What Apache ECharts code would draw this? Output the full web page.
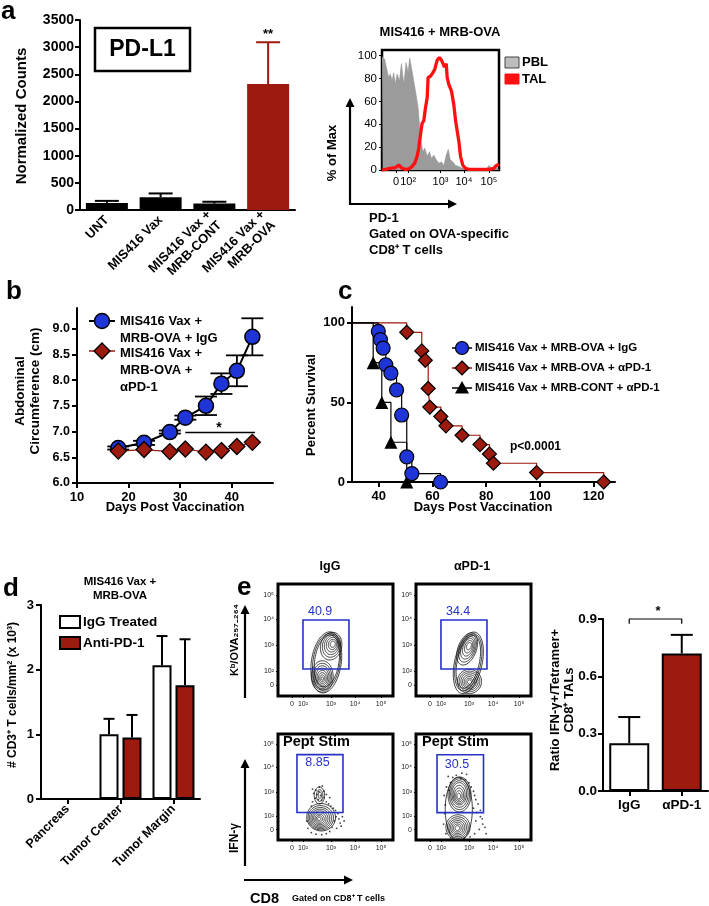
<!DOCTYPE html>
<html><head><meta charset="utf-8">
<script src="https://cdn.jsdelivr.net/npm/echarts@6/dist/echarts.min.js"></script>
<style>html,body{margin:0;padding:0;background:#fff}#c{width:709px;height:906px}</style>
</head><body><div id="c"></div><script>
const FONT = '"Liberation Sans", Arial, Helvetica, sans-serif';
const RED = '#9c1a0e';
const BLUE = '#1f35d8';
const GATE = '#2632c8';

// ---------- Panel a: bar ----------
const aCategories = ['UNT', 'MIS416 Vax', 'MIS416 Vax +\nMRB-CONT', 'MIS416 Vax +\nMRB-OVA'];
const aValues = [130, 235, 118, 2320];
const aErrHigh = [168, 305, 152, 3090];
const aBarColors = ['#000', '#000', '#000', RED];

// ---------- Panel a: histogram (display channel 0-1000, % of max) ----------
const histTickPos = [120, 223, 500, 700, 914];
const histTickLabels = ['0', '10²', '10³', '10⁴', '10⁵'];
const histYTicks = [0, 20, 40, 60, 80, 100];
const pblHist = [[0,99],[6,100],[23,97],[43,87],[57,81],[71,84],[86,78],[100,85],[114,75],[129,84],[149,78],[166,93],[186,75],[206,94],[223,85],[237,98],[251,90],[271,78],[291,66],[309,54],[320,40],[334,25],[349,16],[366,19],[386,12],[406,16],[423,10],[443,13],[463,9],[486,6],[509,7],[529,4],[549,13],[566,18],[583,9],[606,7],[629,4],[657,3],[686,1.5],[714,0],[886,0],[914,4],[937,1.5],[960,4],[977,2],[1000,0]];
const talHist = [[0,0],[29,0.5],[71,1.5],[114,2],[143,4.4],[166,2],[200,0.5],[229,1],[257,3],[280,6],[300,12],[314,19],[329,31],[343,41],[357,43],[371,54],[386,63],[394,81],[414,82],[434,85],[451,88],[471,96],[491,98.5],[509,96],[520,97],[534,90],[549,93],[557,81],[571,75],[594,69],[614,57],[629,43],[643,34],[657,25],[671,12],[691,4],[714,1.5],[743,0.5],[800,0.5],[914,0.5],[957,1.5],[977,4],[994,4],[1000,5]];

// ---------- Panel b ----------
const bDays = [18, 23, 28, 31, 35, 38, 41, 44];
const bMeanIgG = [6.68, 6.78, 6.99, 7.27, 7.50, 7.93, 8.18, 8.84];
const bSemIgG = [0.03, 0.04, 0.03, 0.04, 0.18, 0.20, 0.30, 0.36];
const bMeanPD1 = [6.62, 6.65, 6.61, 6.66, 6.60, 6.63, 6.71, 6.79];
const bSigLine = [[31, 6.98], [44.5, 6.98]];
const bXTicks = [10, 20, 30, 40];
const bYTicks = [6, 6.5, 7, 7.5, 8, 8.5, 9];

// ---------- Panel c (Kaplan-Meier) ----------
const cIgG = [[30,100],[39.8,94.7],[40.6,89.5],[41.6,84.2],[42.6,73.7],[44.5,68.4],[46.6,57.9],[48.5,42.1],[50.4,15.8],[52.3,5.3],[63,0]];
const cPD1 = [[30,100],[50.4,94.1],[56,82.4],[57.3,76.5],[58.4,58.8],[59,47.1],[63.1,41.2],[65,35.3],[71,29.4],[77.7,23.5],[81.2,17.6],[82.7,11.8],[98.8,5.9],[123.8,0]];
const cCont = [[30,100],[37.9,75],[41.1,50],[44.5,25],[50.4,0]];
const cXTicks = [40, 60, 80, 100, 120];
const cYTicks = [0, 50, 100];

// ---------- Panel d ----------
const dCategories = ['Pancreas', 'Tumor Center', 'Tumor Margin'];
const dIgG = [0, 1.0, 2.07];
const dIgGErr = [0, 1.24, 2.52];
const dPD1 = [0, 0.95, 1.76];
const dPD1Err = [0, 1.30, 2.47];

// ---------- Panel e: flow plots (display units 0-1000) ----------
const flowXTickPos = [122, 217, 461, 670, 896];
const flowYTickPos = [98, 223, 455, 688, 902];
const flowTickLabels = ['0', '10²', '10³', '10⁴', '10⁵'];
const gateValues = ['40.9', '34.4', '8.85', '30.5'];
const gateLabelPos = [[366, 752], [366, 752], [343, 730], [356, 712]];
const gateIgGTet = [217, 241, 617, 679];
const gatePD1Tet = [217, 241, 617, 679];
const gateIgGStim = [165, 260, 565, 805];
const gatePD1Stim = [183, 258, 587, 804];
// contour levels: [cx, cy, rx, ry, tilt deg]
const contourIgGTet = [[420,300,130,275,-8],[422,306,118,255,-8],[425,313,106,234,-8],
  [462,445,92,125,-12],[465,450,78,105,-12],[468,455,64,86,-12],[471,458,50,66,-12],[474,460,36,46,-12],[476,462,22,28,-12],
  [385,175,95,140,0],[385,172,82,120,0],[385,168,70,102,0],[385,165,58,84,0],[385,162,46,66,0],[385,160,34,48,0],[385,158,22,31,0],[385,156,11,15,0]];
const contourPD1Tet = [[455,296,120,280,-12],[455,300,108,260,-12],[455,305,96,240,-12],
  [445,420,80,150,-20],[448,425,68,128,-20],[451,430,56,105,-20],[454,435,44,82,-20],[457,440,32,58,-20],[460,445,20,34,-20],
  [465,130,105,108,0],[465,130,90,92,0],[465,130,75,77,0],[465,128,60,62,0],[465,126,46,48,0],[465,125,32,33,0],[465,125,18,19,0]];
const contourIgGStim = [[375,215,125,130,15],[372,210,110,115,15],[370,207,96,100,15],[368,205,82,86,15],[366,203,68,72,15],[364,202,54,58,15],[362,200,40,44,15],[360,200,27,30,15],[358,200,14,16,15],
  [360,420,45,80,0],[362,420,28,55,0],[365,422,15,30,0]];
const contourPD1Stim = [[372,290,118,300,0],
  [378,430,100,165,0],[378,432,88,145,0],[377,434,76,125,0],[376,436,64,105,0],[375,430,52,85,0],[374,425,40,65,0],[373,420,28,45,0],[372,415,16,26,0],
  [365,120,105,118,0],[364,118,90,101,0],[363,116,76,85,0],[362,115,62,69,0],[361,114,48,54,0],[360,113,34,38,0],[360,112,20,23,0]];
const dotsIgGStim = [[300,480],[330,470],[355,455],[310,440],[340,430],[370,420],[400,400],[325,395],[350,380],[380,375],[420,360],[300,360],[440,340],[460,320],[480,300],[500,280],[520,250],[505,220],[530,200],[490,180],[540,160],[470,120],[510,110],[550,130],[450,80],[420,60],[380,50],[330,55],[290,70],[260,110],[250,180],[270,260],[290,320],[560,220],[575,180],[400,460],[420,430],[450,400],[360,500],[385,510]];
const dotsPD1Stim = [[280,600],[320,590],[350,610],[390,580],[430,570],[460,540],[300,540],[480,500],[500,460],[510,420],[520,380],[540,340],[500,300],[530,260],[560,220],[520,180],[580,150],[550,100],[600,120],[510,60],[470,30],[420,20],[300,20],[260,60],[240,150],[250,250],[255,330],[245,420],[265,500],[290,470],[560,280],[575,200],[610,60],[440,620],[400,630]];

// ---------- Panel e: bar ----------
const eCategories = ['IgG', 'αPD-1'];
const eValues = [0.25, 0.72];
const eErrHigh = [0.387, 0.817];
const eBarColors = ['#fff', RED];
const eSigBracket = [[0, 0.875], [0, 0.9], [1, 0.9], [1, 0.875]];

// ================= helpers =================
const chart = echarts.init(document.getElementById('c'), null, {renderer: 'canvas'});
const axLine = {show: true, lineStyle: {color: '#000', width: 2}};
const tick = (len, extra) => Object.assign({show: true, length: len, inside: false, lineStyle: {color: '#000', width: 2}}, extra || {});
const plain = v => String(v);
const lbl = (size, extra) => Object.assign({color: '#000', fontFamily: FONT, fontWeight: 'bold', fontSize: size}, extra || {});
const noSplit = {show: false};

function errBar(o) {
  return function (params, api) {
    const x = api.value(0), lo = api.value(1), hi = api.value(2);
    if (!(hi > lo)) return null;
    const p1 = api.coord([x, lo]), p2 = api.coord([x, hi]);
    const cx = p1[0] + (o.offset || 0);
    const st = {stroke: o.colors ? o.colors[params.dataIndex] : '#000', lineWidth: o.lw || 2};
    const ch = [
      {type: 'line', shape: {x1: cx, y1: p1[1], x2: cx, y2: p2[1]}, style: st},
      {type: 'line', shape: {x1: cx - o.cap, y1: p2[1], x2: cx + o.cap, y2: p2[1]}, style: st}
    ];
    if (o.both) ch.push({type: 'line', shape: {x1: cx - o.cap, y1: p1[1], x2: cx + o.cap, y2: p1[1]}, style: st});
    return {type: 'group', children: ch};
  };
}
function ellipseRender(params, api) {
  const cx = api.value(0), cy = api.value(1), rx = api.value(2), ry = api.value(3), a = api.value(4) * Math.PI / 180;
  const pts = [];
  for (let k = 0; k < 64; k++) {
    const t = k / 64 * 2 * Math.PI, ex = rx * Math.cos(t), ey = ry * Math.sin(t);
    pts.push(api.coord([cx + ex * Math.cos(a) - ey * Math.sin(a), cy + ex * Math.sin(a) + ey * Math.cos(a)]));
  }
  return {type: 'polygon', shape: {points: pts}, style: {fill: 'none', stroke: '#111', lineWidth: 0.8}};
}
function gateRender(params, api) {
  const p1 = api.coord([api.value(0), api.value(1)]), p2 = api.coord([api.value(2), api.value(3)]);
  return {type: 'rect', shape: {x: p1[0], y: p2[1], width: p2[0] - p1[0], height: p1[1] - p2[1]},
    style: {fill: 'none', stroke: GATE, lineWidth: 1.6}};
}
function gateLabelRender(k) {
  return function (params, api) {
    const p = api.coord([api.value(0), api.value(1)]);
    return {type: 'text', x: p[0], y: p[1], style: {text: gateValues[k], fill: GATE, font: '12.5px ' + FONT, align: 'center', verticalAlign: 'middle', textAlign: 'center', textVerticalAlign: 'middle'}};
  };
}
function T(text, x, y, size, o) {
  o = o || {};
  const al = o.align || 'left';
  return {type: 'text', x: x, y: y, rotation: o.rot ? Math.PI / 2 : 0, z: 100,
    style: {text: text, fill: o.color || '#000', font: (o.weight || 'bold') + ' ' + size + 'px ' + FONT,
      align: al, verticalAlign: 'middle', textAlign: al, textVerticalAlign: 'middle'}};
}
function arrow(x1, y1, x2, y2) {
  const ang = Math.atan2(y2 - y1, x2 - x1), L = 9, W = 4.5;
  const bx = x2 - L * Math.cos(ang), by = y2 - L * Math.sin(ang);
  return [
    {type: 'line', shape: {x1: x1, y1: y1, x2: bx, y2: by}, style: {stroke: '#000', lineWidth: 2.2}},
    {type: 'polygon', shape: {points: [[x2, y2], [bx - W * Math.sin(ang), by + W * Math.cos(ang)], [bx + W * Math.sin(ang), by - W * Math.cos(ang)]]}, style: {fill: '#000'}}
  ];
}
function diamondPts(cx, cy, r) { return [[cx, cy - r], [cx + r, cy], [cx, cy + r], [cx - r, cy]]; }
function triPts(cx, cy, r) { return [[cx, cy - r], [cx + r, cy + r * 0.8], [cx - r, cy + r * 0.8]]; }

// ================= grids =================
const gridBase = {containLabel: false, outerBoundsMode: 'none'};
const grids = [
  {left: 80, top: 20, width: 215, height: 190},
  {left: 382, top: 50, width: 117, height: 120, show: true, borderColor: '#000', borderWidth: 2.5, backgroundColor: 'transparent'},
  {left: 77, top: 308, width: 196, height: 175},
  {left: 352, top: 307, width: 263, height: 175},
  {left: 41, top: 605, width: 159, height: 194},
  {left: 278, top: 584, width: 115, height: 112},
  {left: 416, top: 584, width: 115, height: 112},
  {left: 278, top: 734, width: 115, height: 106},
  {left: 416, top: 734, width: 115, height: 106},
  {left: 603, top: 619, width: 105, height: 172}
].map((g, i) => Object.assign({}, gridBase, g, (i >= 5 && i <= 8) ? {show: true, borderColor: '#000', borderWidth: 3, backgroundColor: 'transparent'} : {}));

const xAxes = [
  {gridIndex: 0, type: 'category', data: aCategories, axisLine: axLine, axisTick: {show: false},
    axisLabel: lbl(13, {rotate: 45, interval: 0, margin: 8, lineHeight: 15}), splitLine: noSplit},
  {gridIndex: 1, type: 'value', min: 0, max: 1000, axisLine: {show: false},
    axisTick: {show: true, length: 3, customValues: histTickPos, lineStyle: {color: '#000', width: 1}},
    axisLabel: {customValues: histTickPos, formatter: v => histTickLabels[histTickPos.indexOf(v)] || '', color: '#000', fontFamily: FONT, fontSize: 11, margin: 6},
    splitLine: noSplit},
  {gridIndex: 2, type: 'value', min: 10, max: 48, axisLine: axLine,
    axisTick: tick(5, {customValues: bXTicks}), axisLabel: lbl(13, {customValues: bXTicks, margin: 8, formatter: plain}), splitLine: noSplit},
  {gridIndex: 3, type: 'value', min: 30, max: 128, axisLine: axLine,
    axisTick: tick(5, {customValues: cXTicks}), axisLabel: lbl(13, {customValues: cXTicks, margin: 8, formatter: plain}), splitLine: noSplit},
  {gridIndex: 4, type: 'category', data: dCategories, axisLine: axLine, axisTick: tick(5, {alignWithLabel: true}),
    axisLabel: lbl(12.5, {rotate: 45, interval: 0, margin: 8}), splitLine: noSplit}
];
const yAxes = [
  {gridIndex: 0, type: 'value', min: 0, max: 3500, interval: 500, axisLine: axLine, axisTick: tick(5), axisLabel: lbl(14, {margin: 6, formatter: plain}), splitLine: noSplit},
  {gridIndex: 1, type: 'value', min: 0, max: 105, axisLine: {show: false},
    axisTick: {show: true, length: 3, customValues: histYTicks, lineStyle: {color: '#000', width: 1}},
    axisLabel: {customValues: histYTicks, formatter: plain, color: '#000', fontFamily: FONT, fontSize: 11.5, margin: 5}, splitLine: noSplit},
  {gridIndex: 2, type: 'value', min: 6, max: 9.4, axisLine: axLine, axisTick: tick(5, {customValues: bYTicks}),
    axisLabel: lbl(12.5, {customValues: bYTicks, formatter: v => v.toFixed(1), margin: 7}), splitLine: noSplit},
  {gridIndex: 3, type: 'value', min: 0, max: 110, axisLine: axLine, axisTick: tick(5, {customValues: cYTicks}),
    axisLabel: lbl(13, {customValues: cYTicks, margin: 7, formatter: plain}), splitLine: noSplit},
  {gridIndex: 4, type: 'value', min: 0, max: 3, interval: 1, axisLine: axLine, axisTick: tick(5), axisLabel: lbl(13, {margin: 7, formatter: plain}), splitLine: noSplit}
];
for (let k = 0; k < 4; k++) {
  xAxes.push({gridIndex: 5 + k, type: 'value', min: 0, max: 1000, axisLine: {show: false},
    axisTick: {show: true, length: 2, customValues: flowXTickPos, lineStyle: {color: '#000', width: 1}},
    axisLabel: {customValues: flowXTickPos, formatter: v => flowTickLabels[flowXTickPos.indexOf(v)] || '', color: '#222', fontFamily: FONT, fontSize: 7, margin: 5},
    splitLine: noSplit});
  yAxes.push({gridIndex: 5 + k, type: 'value', min: 0, max: 1000, axisLine: {show: false},
    axisTick: {show: true, length: 2, customValues: flowYTickPos, lineStyle: {color: '#000', width: 1}},
    axisLabel: {customValues: flowYTickPos, formatter: v => flowTickLabels[flowYTickPos.indexOf(v)] || '', color: '#222', fontFamily: FONT, fontSize: 7, margin: 4},
    splitLine: noSplit});
}
xAxes.push({gridIndex: 9, type: 'category', data: eCategories, axisLine: axLine, axisTick: tick(5, {alignWithLabel: true}),
  axisLabel: lbl(13.5, {margin: 7}), splitLine: noSplit});
yAxes.push({gridIndex: 9, type: 'value', min: 0, max: 0.9, interval: 0.3, axisLine: axLine, axisTick: tick(5),
  axisLabel: lbl(13.5, {formatter: v => v.toFixed(1), margin: 6}), splitLine: noSplit});

// ================= series =================
const kmData = arr => arr.map((p, i) => i === 0 ? {value: p, symbol: 'none'} : p);
const series = [
  {type: 'bar', xAxisIndex: 0, yAxisIndex: 0, barWidth: 42,
    data: aValues.map((v, i) => ({value: v, itemStyle: {color: aBarColors[i]}}))},
  {type: 'custom', xAxisIndex: 0, yAxisIndex: 0, renderItem: errBar({cap: 12, colors: aBarColors, lw: 2}),
    data: aValues.map((v, i) => [i, v, aErrHigh[i]]), encode: {x: 0, y: [1, 2]}, z: 3},
  {type: 'line', xAxisIndex: 1, yAxisIndex: 1, data: pblHist, symbol: 'none', lineStyle: {color: '#959595', width: 0.6},
    areaStyle: {color: '#9b9b9b', opacity: 1}, z: 2},
  {type: 'line', xAxisIndex: 1, yAxisIndex: 1, data: talHist, symbol: 'none', lineStyle: {color: '#ff1010', width: 3.3}, z: 3},
  {type: 'line', xAxisIndex: 2, yAxisIndex: 2, data: bSigLine, symbol: 'none', lineStyle: {color: '#000', width: 1.5}, z: 2},
  {type: 'custom', xAxisIndex: 2, yAxisIndex: 2, renderItem: errBar({cap: 11, both: true, lw: 1.8}),
    data: bDays.map((d, i) => [d, bMeanIgG[i] - bSemIgG[i], bMeanIgG[i] + bSemIgG[i]]), encode: {x: 0, y: [1, 2]}, z: 2},
  {type: 'line', xAxisIndex: 2, yAxisIndex: 2, data: bDays.map((d, i) => [d, bMeanIgG[i]]), symbol: 'circle', symbolSize: 15,
    lineStyle: {color: '#000', width: 2}, itemStyle: {color: BLUE, borderColor: '#000', borderWidth: 1.5}, z: 3},
  {type: 'line', xAxisIndex: 2, yAxisIndex: 2, data: bDays.map((d, i) => [d, bMeanPD1[i]]), symbol: 'diamond', symbolSize: 16,
    lineStyle: {color: RED, width: 1.2}, itemStyle: {color: RED, borderColor: '#000', borderWidth: 1.3}, z: 4},
  {type: 'line', xAxisIndex: 3, yAxisIndex: 3, step: 'end', data: kmData(cPD1), symbol: 'diamond', symbolSize: 14,
    lineStyle: {color: RED, width: 1.2}, itemStyle: {color: RED, borderColor: '#000', borderWidth: 1.2}, z: 2},
  {type: 'line', xAxisIndex: 3, yAxisIndex: 3, step: 'end', data: kmData(cCont), symbol: 'triangle', symbolSize: 13,
    lineStyle: {color: '#000', width: 1.2}, itemStyle: {color: '#000'}, z: 3},
  {type: 'line', xAxisIndex: 3, yAxisIndex: 3, step: 'end', data: kmData(cIgG), symbol: 'circle', symbolSize: 14,
    lineStyle: {color: '#000', width: 1.2}, itemStyle: {color: BLUE, borderColor: '#000', borderWidth: 1.2}, z: 4},
  {type: 'bar', xAxisIndex: 4, yAxisIndex: 4, data: dIgG, barWidth: 19, barGap: '21%',
    itemStyle: {color: '#fff', borderColor: '#000', borderWidth: 2}},
  {type: 'bar', xAxisIndex: 4, yAxisIndex: 4, data: dPD1, barWidth: 19, barGap: '21%',
    itemStyle: {color: RED, borderColor: '#000', borderWidth: 2}},
  {type: 'custom', xAxisIndex: 4, yAxisIndex: 4, renderItem: errBar({cap: 5.5, offset: -11.5, lw: 2}),
    data: dIgG.map((v, i) => [i, v, dIgGErr[i]]), encode: {x: 0, y: [1, 2]}, z: 3},
  {type: 'custom', xAxisIndex: 4, yAxisIndex: 4, renderItem: errBar({cap: 5.5, offset: 11.5, lw: 2}),
    data: dPD1.map((v, i) => [i, v, dPD1Err[i]]), encode: {x: 0, y: [1, 2]}, z: 3},
  {type: 'bar', xAxisIndex: 9, yAxisIndex: 9, barWidth: 40,
    data: eValues.map((v, i) => ({value: v, itemStyle: {color: eBarColors[i], borderColor: '#000', borderWidth: 2}}))},
  {type: 'custom', xAxisIndex: 9, yAxisIndex: 9, renderItem: errBar({cap: 11, lw: 2}),
    data: eValues.map((v, i) => [i, v, eErrHigh[i]]), encode: {x: 0, y: [1, 2]}, z: 3},
  {type: 'line', xAxisIndex: 9, yAxisIndex: 9, data: eSigBracket, symbol: 'none', clip: false, lineStyle: {color: '#000', width: 1.2}, z: 3}
];
const flowContours = [contourIgGTet, contourPD1Tet, contourIgGStim, contourPD1Stim];
const flowGates = [gateIgGTet, gatePD1Tet, gateIgGStim, gatePD1Stim];
const flowDots = [null, null, dotsIgGStim, dotsPD1Stim];
for (let k = 0; k < 4; k++) {
  const ax = 5 + k;
  series.push({type: 'custom', xAxisIndex: ax, yAxisIndex: ax, renderItem: ellipseRender, data: flowContours[k], encode: {x: 0, y: 1}, z: 2, clip: true});
  if (flowDots[k]) series.push({type: 'scatter', xAxisIndex: ax, yAxisIndex: ax, data: flowDots[k], symbolSize: 1.8, itemStyle: {color: '#111'}, z: 2});
  series.push({type: 'custom', xAxisIndex: ax, yAxisIndex: ax, renderItem: gateRender, data: [flowGates[k]], encode: {x: [0, 2], y: [1, 3]}, z: 4});
  series.push({type: 'custom', xAxisIndex: ax, yAxisIndex: ax, renderItem: gateLabelRender(k), data: [gateLabelPos[k]], encode: {x: 0, y: 1}, z: 5});
}

// ================= graphics (text / annotations) =================
const g = [];
g.push(T('a', 1, 12, 26), T('b', 6, 292, 26), T('c', 338, 292, 26), T('d', 3, 589, 26), T('e', 237, 588, 26));
g.push({type: 'rect', shape: {x: 95, y: 28, width: 95, height: 43}, style: {fill: '#fff', stroke: '#000', lineWidth: 2.5}, z: 90});
g.push(T('PD-L1', 142.5, 50, 23, {align: 'center'}));
g.push(T('**', 268, 34, 13, {align: 'center'}));
g.push(T('Normalized Counts', 22, 116, 15, {rot: true, align: 'center'}));
g.push(T('MIS416 + MRB-OVA', 440, 32, 13, {align: 'center'}));
g.push({type: 'rect', shape: {x: 505, y: 57, width: 14, height: 11}, style: {fill: '#bdbdbd', stroke: '#444', lineWidth: 1}, z: 90});
g.push({type: 'rect', shape: {x: 505, y: 74, width: 14, height: 10}, style: {fill: '#ff1010', stroke: '#ff1010', lineWidth: 1}, z: 90});
g.push(T('PBL', 522, 62, 13), T('TAL', 522, 79, 13));
g.push(T('% of Max', 332, 153, 13, {rot: true, align: 'center'}));
g.push(...arrow(350, 205, 350, 98), ...arrow(349, 204, 457, 204));
g.push(T('PD-1', 369, 218, 13), T('Gated on OVA-specific', 369, 234, 13), T('CD8⁺ T cells', 369, 250, 13));
// b
g.push({type: 'line', shape: {x1: 89, y1: 321, x2: 115, y2: 321}, style: {stroke: '#000', lineWidth: 2}, z: 90});
g.push({type: 'circle', shape: {cx: 102, cy: 321, r: 7.5}, style: {fill: BLUE, stroke: '#000', lineWidth: 1.5}, z: 91});
g.push(T('MIS416 Vax +', 120, 321, 13), T('MRB-OVA + IgG', 120, 338, 13));
g.push({type: 'line', shape: {x1: 89, y1: 351, x2: 115, y2: 351}, style: {stroke: RED, lineWidth: 1.5}, z: 90});
g.push({type: 'polygon', shape: {points: diamondPts(102, 351, 8)}, style: {fill: RED, stroke: '#000', lineWidth: 1.3}, z: 91});
g.push(T('MIS416 Vax +', 120, 353, 13), T('MRB-OVA +', 120, 370, 13), T('αPD-1', 120, 387, 13));
g.push(T('*', 219, 428, 14, {align: 'center'}));
g.push(T('Abdominal', 20, 391, 13.5, {rot: true, align: 'center'}), T('Circumference (cm)', 35, 391, 13.5, {rot: true, align: 'center'}));
g.push(T('Days Post Vaccination', 175, 507, 13, {align: 'center'}));
// c
g.push(T('Percent Survival', 311, 405, 13, {rot: true, align: 'center'}));
g.push(T('Days Post Vaccination', 483, 507, 13, {align: 'center'}));
g.push(T('p<0.0001', 510, 447, 12));
const cLeg = [['circle', 'MIS416 Vax + MRB-OVA + IgG', 348], ['diamond', 'MIS416 Vax + MRB-OVA + αPD-1', 368], ['triangle', 'MIS416 Vax + MRB-CONT + αPD-1', 388]];
cLeg.forEach(r => {
  const y = r[2];
  g.push({type: 'line', shape: {x1: 452, y1: y, x2: 472, y2: y}, style: {stroke: r[0] === 'diamond' ? RED : '#000', lineWidth: 1.5}, z: 90});
  if (r[0] === 'circle') g.push({type: 'circle', shape: {cx: 462, cy: y, r: 6.5}, style: {fill: BLUE, stroke: '#000', lineWidth: 1.2}, z: 91});
  if (r[0] === 'diamond') g.push({type: 'polygon', shape: {points: diamondPts(462, y, 7)}, style: {fill: RED, stroke: '#000', lineWidth: 1.2}, z: 91});
  if (r[0] === 'triangle') g.push({type: 'polygon', shape: {points: triPts(462, y, 7)}, style: {fill: '#000'}, z: 91});
  g.push(T(r[1], 475, y, 11.5));
});
// d
g.push(T('MIS416 Vax +', 120, 582, 11.5, {align: 'center'}), T('MRB-OVA', 120, 596, 11.5, {align: 'center'}));
g.push({type: 'rect', shape: {x: 60, y: 616, width: 20, height: 12}, style: {fill: '#fff', stroke: '#000', lineWidth: 2}, z: 90});
g.push({type: 'rect', shape: {x: 60, y: 637, width: 20, height: 12}, style: {fill: RED, stroke: '#000', lineWidth: 2}, z: 90});
g.push(T('IgG Treated', 83, 622, 13.5), T('Anti-PD-1', 83, 643, 13.5));
g.push(T('# CD3⁺ T cells/mm² (x 10³)', 13, 695, 12, {rot: true, align: 'center'}));
// e flow
g.push(T('IgG', 330, 567, 12.5, {align: 'center'}), T('αPD-1', 472, 567, 12.5, {align: 'center'}));
g.push(T('Kᵇ/OVA₂₅₇₋₂₆₄', 235, 640, 11, {rot: true, align: 'center'}), T('IFN-γ', 235, 838, 12, {rot: true, align: 'center'}));
g.push(...arrow(245, 698, 245, 605), ...arrow(245, 866, 245, 759), ...arrow(244, 880, 353, 880));
g.push(T('CD8', 250, 899, 14.5), T('Gated on CD8⁺ T cells', 292, 899, 9));
g.push(T('Pept Stim', 283, 742, 14.5), T('Pept Stim', 422, 742, 14.5));
// e bar
g.push(T('*', 658, 611, 13, {align: 'center'}));
g.push(T('Ratio IFN-γ+/Tetramer+', 555, 700, 13, {rot: true, align: 'center'}), T('CD8⁺ TALs', 569, 700, 13, {rot: true, align: 'center'}));

chart.setOption({
  animation: false,
  backgroundColor: '#fff',
  textStyle: {fontFamily: FONT},
  grid: grids,
  xAxis: xAxes,
  yAxis: yAxes,
  series: series,
  graphic: g
});
</script></body></html>
